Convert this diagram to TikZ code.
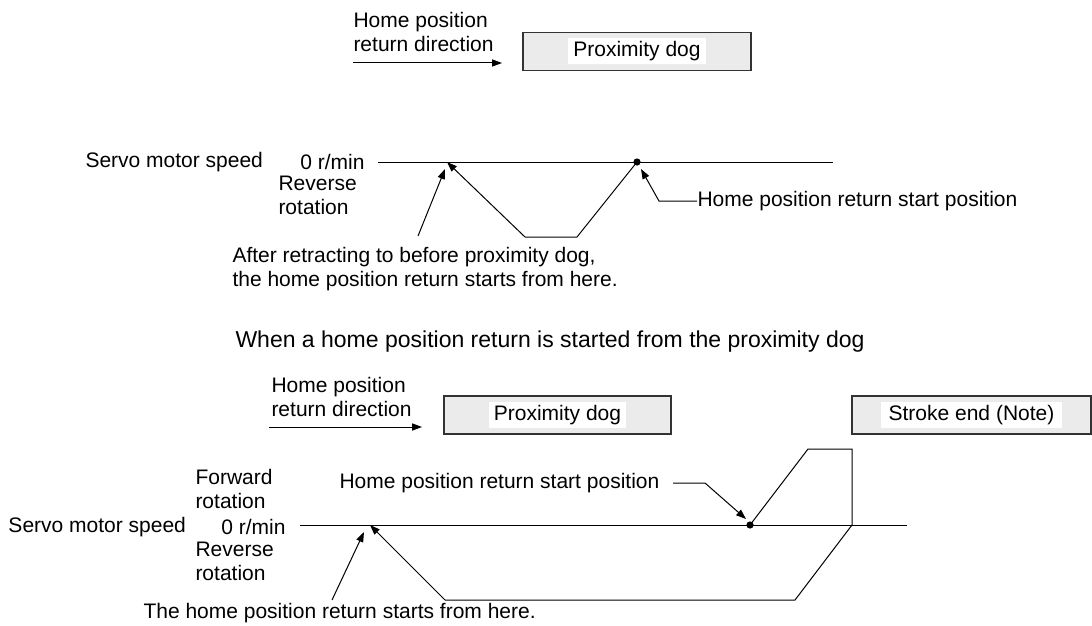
\documentclass[tikz,border=0pt]{standalone}
\usepackage{fontspec}
\setmainfont{Liberation Sans}
\usetikzlibrary{positioning, arrows.meta}

\begin{document}
\begin{tikzpicture}[x=0.5pt, y=-0.5pt, line width=0.5pt,
    every node/.style={font=\fontsize{10.5}{12}\selectfont, inner sep=0pt},
    txt/.style={align=left, anchor=west},
    dogbox/.style={draw=black!80, fill=black!8, line width=0.7pt, minimum height=19pt},
    tag/.style={fill=white, inner xsep=2.5pt, minimum height=13pt},
    dot/.style={circle, fill=black, minimum size=3.6pt},
    arr/.style={-{Triangle[length=5pt, width=3.6pt]}}]
        \useasboundingbox (0,0) rectangle (1092,626);

        % first case: start inside the dog
        \node[txt] (dirtop) at (353,32) {Home position\\return direction};
        \coordinate (dt0) at (353,63);
        \coordinate (dt1) at (502,63);
        \draw[arr] (dt0) -- (dt1);
        \node[dogbox, minimum width=114pt] (dogtop) at (637,51.5) {};
        \node[tag] (dogtoplbl) at (dogtop) {Proximity dog};

        \node[txt] (spdtop) at (85,162) {Servo motor speed};
        \node[anchor=east] (zerotop) at (365,162) {0 r/min};
        \node[txt] (revtop) at (278,195) {Reverse\\rotation};
        \coordinate (ax0) at (378,162);
        \coordinate (ax1) at (833,162);
        \draw (ax0) -- (ax1);

        \coordinate (p0) at (447,162);
        \coordinate (p1) at (525,237);
        \coordinate (p2) at (577,237);
        \node[dot] (starttop) at (637,162) {};
        \draw[arr] (p1) -- (p0);
        \draw (p1) -- (p2) -- (starttop.center);

        \node[txt] (notetop) at (232,269.5) {After retracting to before proximity dog,\\the home position return starts from here.};
        \coordinate (na0) at (418,236);
        \coordinate (na1) at (445,169);
        \draw[arr] (na0) -- (na1);

        \node[txt] (sptop) at (697,201) {Home position return start position};
        \coordinate (sl0) at (659,201);
        \coordinate (sl1) at (641,169);
        \draw[arr] (sptop.west) -- (sl0) -- (sl1);

        \node (caption) at (550,342) {\fontsize{11.5}{13}\selectfont When a home position return is started from the proximity dog};

        % second case: stroke end reached
        \node[txt] (dirbot) at (271,396.5) {Home position\\return direction};
        \coordinate (db0) at (269,427);
        \coordinate (db1) at (422,427);
        \draw[arr] (db0) -- (db1);
        \node[dogbox, minimum width=113.5pt] (dogbot) at (557.5,415) {};
        \node[tag] (dogbotlbl) at (dogbot) {Proximity dog};
        \node[dogbox, minimum width=119.5pt] (stroke) at (971.5,415) {};
        \node[tag, inner xsep=3.8pt] (strokelbl) at (stroke) {Stroke end (Note)};

        \node[txt] (fwd) at (195,489) {Forward\\rotation};
        \node[txt] (spdbot) at (8,527) {Servo motor speed};
        \node[anchor=east] (zerobot) at (286,527) {0 r/min};
        \node[txt] (revbot) at (195,561) {Reverse\\rotation};
        \coordinate (bx0) at (300,525);
        \coordinate (bx1) at (907,525);
        \draw (bx0) -- (bx1);

        \coordinate (q0) at (370,525);
        \coordinate (q1) at (445,600);
        \coordinate (q2) at (795,600);
        \coordinate (q3) at (852,525);
        \coordinate (q4) at (852,449);
        \coordinate (q5) at (808,449);
        \node[dot] (startbot) at (750,525) {};
        \draw[arr] (q1) -- (q0);
        \draw (q1) -- (q2) -- (q3) -- (q4) -- (q5) -- (startbot.center);

        \node[txt] (spbot) at (339,483) {Home position return start position};
        \coordinate (sb0) at (673,483);
        \coordinate (sb1) at (705,483);
        \coordinate (sb2) at (746,519);
        \draw[arr] (sb0) -- (sb1) -- (sb2);

        \node[txt] (notebot) at (143,613) {The home position return starts from here.};
        \coordinate (nb0) at (332,600);
        \coordinate (nb1) at (364,532);
        \draw[arr] (nb0) -- (nb1);
\end{tikzpicture}
\end{document}
